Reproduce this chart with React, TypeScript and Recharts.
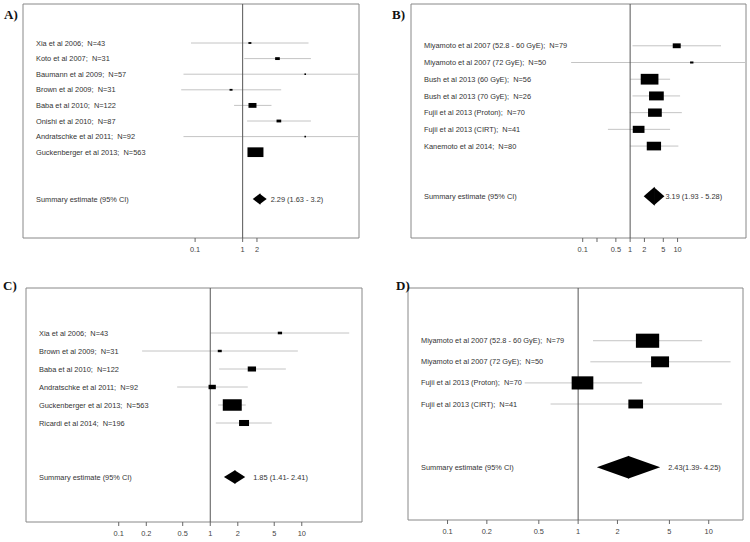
import React from "react";
import { ComposedChart, XAxis, YAxis, Scatter, ReferenceLine, ReferenceArea } from "recharts";

// A) photon SBRT studies
const aStudies = [
  "Xia et al 2006;  N=43",
  "Koto et al 2007;  N=31",
  "Baumann et al 2009;  N=57",
  "Brown et al 2009;  N=31",
  "Baba et al 2010;  N=122",
  "Onishi et al 2010;  N=87",
  "Andratschke et al 2011;  N=92",
  "Guckenberger et al 2013;  N=563",
];
const aEst = [1.42, 5.4, 20.7, 0.57, 1.61, 5.78, 20.7, 1.86];
const aLow = [0.082, 1.08, 0.057, 0.051, 0.66, 1.24, 0.057, 1.3];
const aHigh = [24.3, 27.3, 400, 6.46, 4.04, 27.3, 400, 2.6];
const aWeight = [2.3, 5.7, 0.4, 2.3, 16.6, 5.7, 0.4, 66.5];
const aSummary = [2.29, 1.63, 3.2];
const aSummaryText = "2.29 (1.63 - 3.2)";
const aTicks = [0.1, 1, 2];
const aTickLabels = ["0.1", "1", "2"];

// B) particle therapy studies
const bStudies = [
  "Miyamoto et al 2007 (52.8 - 60 GyE);  N=79",
  "Miyamoto et al 2007 (72 GyE);  N=50",
  "Bush et al 2013 (60 GyE);  N=56",
  "Bush et al 2013 (70 GyE);  N=26",
  "Fujii et al 2013 (Proton);  N=70",
  "Fujii et al 2013 (CIRT);  N=41",
  "Kanemoto et al 2014;  N=80",
];
const bEst = [9.6, 19.9, 2.57, 3.58, 3.33, 1.51, 3.17];
const bLow = [1.12, 0.057, 1.0, 1.12, 0.98, 0.34, 0.99];
const bHigh = [82.4, 400, 6.95, 11.3, 12.3, 6.95, 10.4];
const bWeight = [5.6, 1.0, 27.6, 19.1, 16.6, 12.1, 18.0];
const bSummary = [3.19, 1.93, 5.28];
const bSummaryText = "3.19 (1.93 - 5.28)";
const bTicks = [0.1, 0.2, 0.5, 1, 2, 5, 10];
const bTickLabels = ["0.1", "", "0.5", "1", "2", "5", "10"];

// C) photon SBRT, second outcome
const cStudies = [
  "Xia et al 2006;  N=43",
  "Brown et al 2009;  N=31",
  "Baba et al 2010;  N=122",
  "Andratschke et al 2011;  N=92",
  "Guckenberger et al 2013;  N=563",
  "Ricardi et al 2014;  N=196",
];
const cEst = [5.77, 1.27, 2.85, 1.05, 1.74, 2.34];
const cLow = [1.0, 0.18, 1.25, 0.435, 1.22, 1.15];
const cHigh = [33, 9.06, 6.7, 2.57, 2.44, 4.7];
const cWeight = [3.0, 2.6, 11.2, 8.6, 58.5, 16.2];
const cSummary = [1.85, 1.41, 2.41];
const cSummaryText = "1.85 (1.41- 2.41)";
const cTicks = [0.1, 0.2, 0.5, 1, 2, 5, 10];
const cTickLabels = ["0.1", "0.2", "0.5", "1", "2", "5", "10"];

// D) particle therapy, second outcome
const dStudies = [
  "Miyamoto et al 2007 (52.8 - 60 GyE);  N=79",
  "Miyamoto et al 2007 (72 GyE);  N=50",
  "Fujii et al 2013 (Proton);  N=70",
  "Fujii et al 2013 (CIRT);  N=41",
];
const dEst = [3.4, 4.24, 1.08, 2.76];
const dLow = [1.3, 1.24, 0.39, 0.615];
const dHigh = [8.9, 14.7, 3.09, 12.6];
const dWeight = [34.9, 20.8, 30.3, 13.9];
const dSummary = [2.43, 1.39, 4.25];
const dSummaryText = "2.43(1.39- 4.25)";
const dTicks = [0.1, 0.2, 0.5, 1, 2, 5, 10];
const dTickLabels = ["0.1", "0.2", "0.5", "1", "2", "5", "10"];

const FONT = "'Liberation Sans', Arial, sans-serif";
const TEXT_SIZE = 7.4;

const PANELS = [
  {
    letter: "A)", lx: 4, ly: 19,
    studies: aStudies, est: aEst, low: aLow, high: aHigh, weight: aWeight,
    summary: aSummary, summaryText: aSummaryText, ticks: aTicks, tickLabels: aTickLabels,
    domain: [2.4e-5, 280], left: 0, top: 0,
    margin: { top: 4, left: 23, right: 16, bottom: 13 },
    boxScale: 1.96, diamondHalf: 0.34, textGap: 4,
  },
  {
    letter: "B)", lx: 392, ly: 19,
    studies: bStudies, est: bEst, low: bLow, high: bHigh, weight: bWeight,
    summary: bSummary, summaryText: bSummaryText, ticks: bTicks, tickLabels: bTickLabels,
    domain: [2.4e-5, 277], left: 375, top: 0,
    margin: { top: 4, left: 36, right: 4, bottom: 13 },
    boxScale: 3.37, diamondHalf: 0.54, textGap: 1,
  },
  {
    letter: "C)", lx: 3, ly: 290,
    studies: cStudies, est: cEst, low: cLow, high: cHigh, weight: cWeight,
    summary: cSummary, summaryText: cSummaryText, ticks: cTicks, tickLabels: cTickLabels,
    domain: [0.0097, 45.5], left: 0, top: 271,
    margin: { top: 17, left: 26, right: 13, bottom: 0 },
    boxScale: 2.48, diamondHalf: 0.37, textGap: 8,
  },
  {
    letter: "D)", lx: 396, ly: 290,
    studies: dStudies, est: dEst, low: dLow, high: dHigh, weight: dWeight,
    summary: dSummary, summaryText: dSummaryText, ticks: dTicks, tickLabels: dTickLabels,
    domain: [0.0498, 18.3], left: 375, top: 271,
    margin: { top: 17, left: 33, right: 7, bottom: 2 },
    boxScale: 3.94, diamondHalf: 0.53, textGap: 8,
  },
];

function StudyBox(props: any) {
  const { cx, cy, payload, boxScale } = props;
  if (cx == null || cy == null) return null;
  const w = Math.max(1.6, boxScale * Math.sqrt(payload.weight));
  const h = Math.max(1.6, w / 1.65);
  return <rect x={cx - w / 2} y={cy - h / 2} width={w} height={h} fill="#000" />;
}

// left half of the summary diamond (low -> estimate); overlaps the centre a little to hide the seam
function LeftHalf(props: any) {
  const { x, y, width, height } = props;
  const r = x + width + 0.6;
  return (
    <polygon
      points={`${x},${y + height / 2} ${r},${y - 0.4} ${r},${y + height + 0.4}`}
      fill="#000"
    />
  );
}

function RightHalf(props: any) {
  const { x, y, width, height, text, gap } = props;
  return (
    <g>
      <polygon
        points={`${x},${y} ${x + width},${y + height / 2} ${x},${y + height}`}
        fill="#000"
      />
      <text
        x={x + width + gap}
        y={y + height / 2}
        dy="0.35em"
        fontSize={TEXT_SIZE}
        fontFamily={FONT}
        fill="#333"
        style={{ whiteSpace: "pre" }}
      >
        {text}
      </text>
    </g>
  );
}

function RowLabel(props: any) {
  const { x, y, payload, labels } = props;
  return (
    <text
      x={x}
      y={y}
      dy="0.35em"
      textAnchor="start"
      fontSize={TEXT_SIZE}
      fontFamily={FONT}
      fill="#333"
      style={{ whiteSpace: "pre" }}
    >
      {labels[payload.value]}
    </text>
  );
}

function ForestPanel({ p }: { p: any }) {
  const n = p.studies.length;
  // two blank rows between the last study and the summary line
  const sumRow = n + 2;
  const yDomain = [-2.5, sumRow + 2.5];
  const data = p.studies.map((s: string, i: number) => ({
    row: i,
    est: p.est[i],
    weight: p.weight[i],
  }));
  const labels: Record<number, string> = {};
  p.studies.forEach((s: string, i: number) => (labels[i] = s));
  labels[sumRow] = "Summary estimate (95% CI)";
  const rowTicks = [...p.studies.map((_: string, i: number) => i), sumRow];
  const [sEst, sLow, sHigh] = p.summary;

  return (
    <div style={{ position: "absolute", left: p.left, top: p.top }}>
      <ComposedChart width={375} height={271} data={data} margin={p.margin}>
        <XAxis
          type="number"
          dataKey="est"
          scale="log"
          domain={p.domain}
          allowDataOverflow
          ticks={p.ticks}
          interval={0}
          tickFormatter={(v: number) => p.tickLabels[p.ticks.indexOf(v)] ?? ""}
          axisLine={false}
          tickLine={{ stroke: "#666" }}
          tickSize={4}
          tickMargin={5}
          height={20}
          tick={{ fontSize: TEXT_SIZE, fill: "#444", fontFamily: FONT }}
        />
        <YAxis
          type="number"
          dataKey="row"
          domain={yDomain}
          allowDataOverflow
          reversed
          mirror
          ticks={rowTicks}
          interval={0}
          axisLine={false}
          tickLine={false}
          tickSize={0}
          tickMargin={13}
          tick={(tp: any) => <RowLabel {...tp} labels={labels} />}
        />
        <ReferenceArea
          x1={p.domain[0]}
          x2={p.domain[1]}
          y1={yDomain[0]}
          y2={yDomain[1]}
          fill="none"
          stroke="#888"
          strokeWidth={1}
          ifOverflow="visible"
        />
        {data.map((d: any, i: number) => (
          <ReferenceLine
            key={i}
            segment={[
              { x: p.low[i], y: i },
              { x: p.high[i], y: i },
            ]}
            stroke="#c4c4c4"
            strokeWidth={1}
            ifOverflow="hidden"
          />
        ))}
        <ReferenceLine x={1} stroke="#555" strokeWidth={1} ifOverflow="visible" />
        <ReferenceArea
          x1={sLow}
          x2={sEst}
          y1={sumRow - p.diamondHalf}
          y2={sumRow + p.diamondHalf}
          ifOverflow="visible"
          shape={(sp: any) => <LeftHalf {...sp} />}
        />
        <ReferenceArea
          x1={sEst}
          x2={sHigh}
          y1={sumRow - p.diamondHalf}
          y2={sumRow + p.diamondHalf}
          ifOverflow="visible"
          shape={(sp: any) => <RightHalf {...sp} text={p.summaryText} gap={p.textGap} />}
        />
        <Scatter
          data={data}
          isAnimationActive={false}
          shape={(sp: any) => <StudyBox {...sp} boxScale={p.boxScale} />}
        />
      </ComposedChart>
    </div>
  );
}

export default function App() {
  return (
    <div
      style={{
        position: "absolute",
        left: 0,
        top: 0,
        width: 750,
        height: 542,
        background: "#fff",
        overflow: "hidden",
      }}
    >
      {PANELS.map((p) => (
        <ForestPanel key={p.letter} p={p} />
      ))}
      <svg
        width={750}
        height={542}
        style={{ position: "absolute", left: 0, top: 0, pointerEvents: "none" }}
      >
        {PANELS.map((p) => (
          <text
            key={p.letter}
            x={p.lx}
            y={p.ly}
            fontSize={13}
            fontWeight="bold"
            fontFamily="'Liberation Serif', 'Times New Roman', serif"
            fill="#111"
          >
            {p.letter}
          </text>
        ))}
      </svg>
    </div>
  );
}
